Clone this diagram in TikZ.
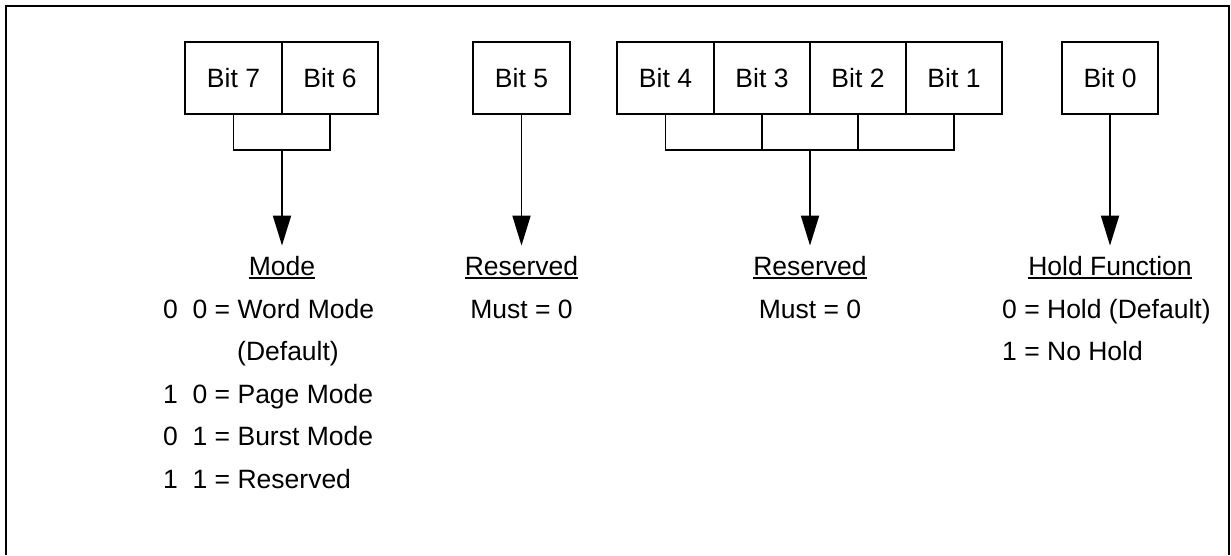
\documentclass[tikz,border=0pt]{standalone}
\usepackage{fontspec}
\setmainfont{Liberation Sans}
\usetikzlibrary{arrows.meta,calc}
\begin{document}
\begin{tikzpicture}[x=1pt,y=-1pt,
  every node/.style={font=\fontsize{26.5}{31}\selectfont, inner sep=0pt},
  bitbox/.style={draw, line width=1.8pt, minimum width=96.5pt, minimum height=72pt},
  brk/.style={line width=1.8pt},
  arr/.style={line width=1.8pt, -{Triangle[length=30pt,width=18pt]}},
  frameline/.style={line width=2.5pt},
  uline/.style={line width=2pt},
  title/.style={anchor=base},
  item/.style={anchor=base west}]
\useasboundingbox (0,0) rectangle (1231,555);
% frame (open at the bottom)
\draw[frameline] (6,555) -- (6,6) -- (1229,6) -- (1229,555);
% bit boxes
\node[bitbox] (b7) at (233.5,78) {Bit 7};
\node[bitbox] (b6) at (330,78) {Bit 6};
\node[bitbox] (b5) at (521.5,78) {Bit 5};
\node[bitbox] (b4) at (665.5,78) {Bit 4};
\node[bitbox] (b3) at (762,78) {Bit 3};
\node[bitbox] (b2) at (858,78) {Bit 2};
\node[bitbox] (b1) at (954,78) {Bit 1};
\node[bitbox] (b0) at (1110,78) {Bit 0};
% titles
\node[title] (mode) at (282,275) {Mode};
\node[title] (res1) at (521.5,275) {Reserved};
\node[title] (res2) at (810,275) {Reserved};
\node[title] (hold) at (1110,275) {Hold Function};
\foreach \t in {mode,res1,res2,hold}
  \draw[uline] ($(\t.south west)+(0,3)$) -- ($(\t.south east)+(0,3)$);
% brackets
\coordinate (j76) at (282,150);
\coordinate (j41) at (810,150);
\draw[brk] (b7.south) -- (b7.south |- j76) -- (b6.south |- j76) -- (b6.south);
\draw[brk] (b4.south) -- (b4.south |- j41) -- (b1.south |- j41) -- (b1.south);
\draw[brk] (b3.south) -- (b3.south |- j41);
\draw[brk] (b2.south) -- (b2.south |- j41);
% arrows
\draw[arr, shorten >=10pt] (j76) -- (mode.north);
\draw[arr, shorten >=10pt] (b5.south) -- (res1.north);
\draw[arr, shorten >=10pt] (j41) -- (res2.north);
\draw[arr, shorten >=10pt] (b0.south) -- (hold.north);
% descriptions
\node[item] (m1) at (163,318) {0~~0 = Word Mode};
\node[item] (m1b) at (237,360.5) {(Default)};
\node[item] (m2) at (163,403) {1~~0 = Page Mode};
\node[item] (m3) at (163,445.5) {0~~1 = Burst Mode};
\node[item] (m4) at (163,488) {1~~1 = Reserved};
\node[title] (must1) at (521.5,318) {Must = 0};
\node[title] (must2) at (810,318) {Must = 0};
\node[item] (h1) at (1002,318) {0 = Hold (Default)};
\node[item] (h2) at (1002,360.5) {1 = No Hold};
\end{tikzpicture}
\end{document}
